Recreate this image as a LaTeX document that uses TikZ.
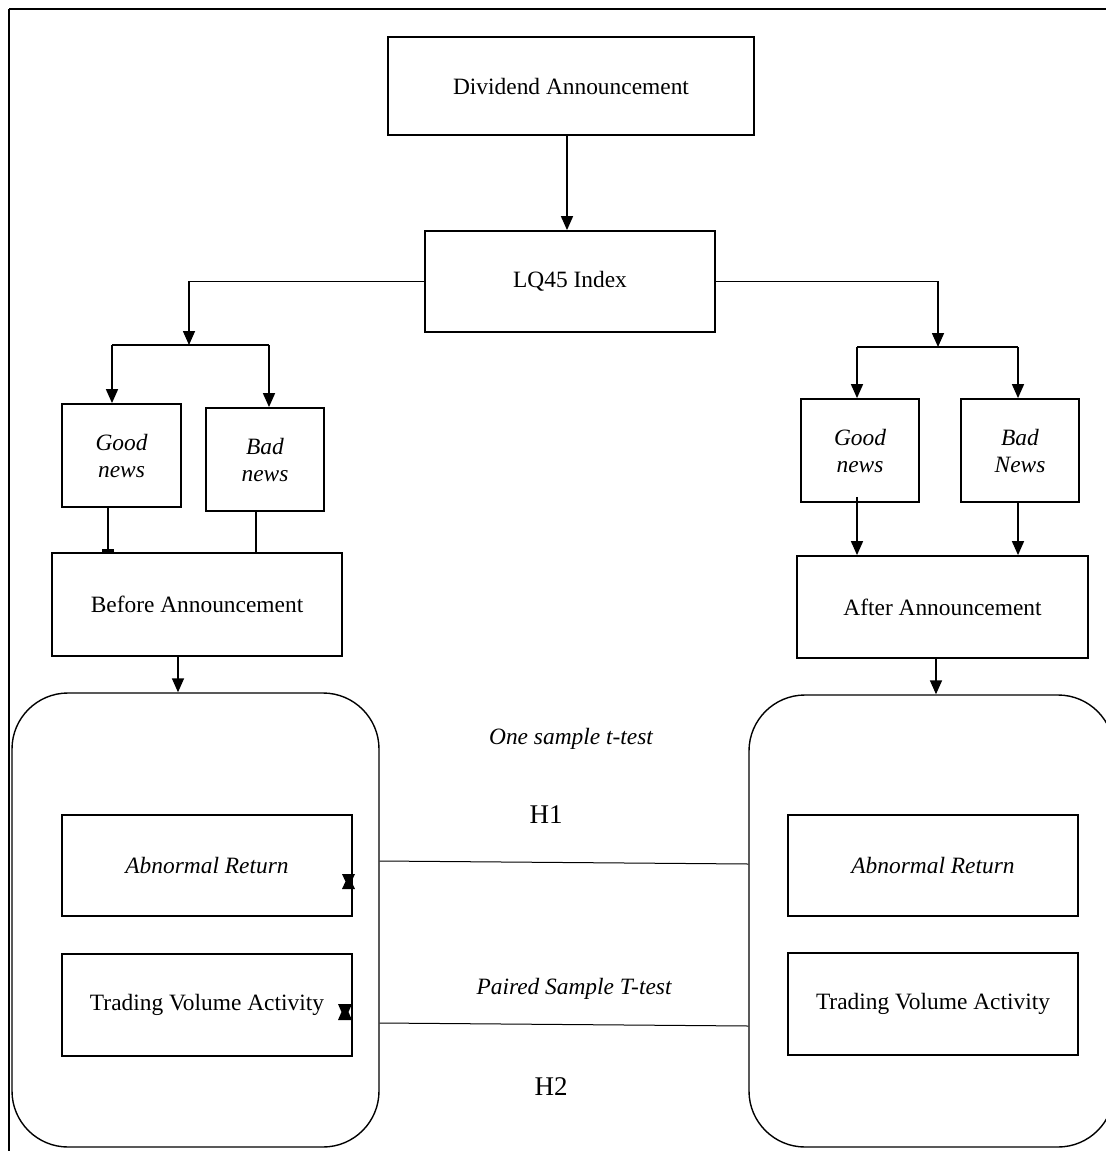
\documentclass[tikz,border=0pt]{standalone}
\usepackage{fontspec}
\setmainfont{Liberation Serif}
\usetikzlibrary{arrows.meta,calc}
\begin{document}
\begin{tikzpicture}[x=0.5pt,y=-0.5pt,
  txt/.style={font=\fontsize{11.7}{13.5}\selectfont, align=center},
  box/.style={txt, draw, line width=0.9pt, inner sep=0pt},
  bigbox/.style={box, minimum width=145pt, minimum height=50.5pt},
  newsbox/.style={box, minimum width=59.5pt, minimum height=51.5pt, font=\fontsize{11.7}{13.5}\selectfont\itshape},
  rbox/.style={draw, line width=0.7pt, rounded corners=28pt, minimum width=183.5pt, minimum height=227pt},
  conn/.style={line width=0.8pt},
  arr/.style={conn, -{Triangle[width=6pt,length=7pt]}},
  bararr/.style={conn, -{Bar[width=6pt,line width=1.5pt]}},
  thin/.style={line width=0.5pt},
  lbl/.style={font=\fontsize{11.7}{13.5}\selectfont\itshape},
  hlbl/.style={font=\fontsize{13.5}{16}\selectfont},
  tie/.style={fill=black}
]
\useasboundingbox (0,0) rectangle (1106,1151);
% frame
\coordinate (fTL) at (9,9);
\coordinate (fTR) at (1106,9);
\coordinate (fBL) at (9,1151);
\draw[line width=1.1pt] (fTR) -- (fTL);
\draw[line width=0.6pt] (fTL) -- (fBL);

% main boxes
\node[box, minimum width=183pt, minimum height=49pt] (div) at (571,86) {Dividend Announcement};
\node[bigbox] (lq) at (570,281.5) {LQ45 Index};

\node[newsbox] (gnL) at (121.5,455.5) {Good\\news};
\node[newsbox, minimum width=59pt] (bnL) at (265,459.5) {Bad\\news};
\node[bigbox, minimum height=51.5pt] (before) at (197,604.5) {Before Announcement};

\node[newsbox, minimum width=59pt] (gnR) at (860,450.5) {Good\\news};
\node[newsbox, minimum width=59pt] (bnR) at (1020,450.5) {Bad\\News};
\node[bigbox, minimum width=145.5pt, minimum height=51pt] (after) at (942.5,607) {After Announcement};

% rounded containers
\node[rbox] (roundL) at (195.5,920) {};
\node[rbox, minimum width=182.5pt, minimum height=226pt] (roundR) at (931.5,921) {};

% inner boxes
\node[bigbox, font=\fontsize{11.7}{13.5}\selectfont\itshape] (arL) at (207,865.5) {Abnormal Return};
\node[bigbox, minimum height=51pt] (tvL) at (207,1005) {Trading Volume Activity};
\node[bigbox, font=\fontsize{11.7}{13.5}\selectfont\itshape] (arR) at (933,865.5) {Abnormal Return};
\node[bigbox, minimum height=51pt] (tvR) at (933,1004) {Trading Volume Activity};

% labels
\node[lbl] (t1) at (571,739) {One sample t-test};
\node[hlbl] (h1) at (546,815) {H1};
\node[lbl] (t2) at (574,989) {Paired Sample T-test};
\node[hlbl] (h2) at (551,1087) {H2};

% connectors top
\draw[arr] ([xshift=-2pt]div.south) -- ([xshift=-2pt]div.south |- lq.north);

% left fork
\coordinate (forkL) at (189,345);
\coordinate (forkLa) at (112,345);
\coordinate (forkLb) at (269,345);
\draw[arr] (lq.west) -| (forkL);
\draw[conn] (forkLa) -- (forkLb);
\draw[arr] (forkLa) -- (forkLa |- gnL.north);
\draw[arr] (forkLb) -- (forkLb |- bnL.north);

% right fork
\coordinate (forkR) at (938,347);
\coordinate (forkRa) at (857,347);
\coordinate (forkRb) at (1018,347);
\draw[arr] (lq.east) -| (forkR);
\draw[conn] (forkRa) -- (forkRb);
\draw[arr] (forkRa) -- (forkRa |- gnR.north);
\draw[arr] (forkRb) -- (forkRb |- bnR.north);

% news to before/after
\coordinate (gLx) at (108,0);
\coordinate (bLx) at (256,0);
\draw[bararr] (gnL.south -| gLx) -- (before.north -| gLx);
\draw[conn] (bnL.south -| bLx) -- (before.north -| bLx);
\draw[arr] ([yshift=3pt]gnR.south -| forkRa) -- (after.north -| forkRa);
\draw[arr] (bnR.south -| forkRb) -- (after.north -| forkRb);

% to containers
\coordinate (bx) at (178,0);
\coordinate (ax) at (936,0);
\draw[arr] (before.south -| bx) -- (roundL.north -| bx);
\draw[arr] (after.south -| ax) -- (roundR.north -| ax);

% hypothesis lines
\draw[thin] ([yshift=2.25pt]roundL.east |- arL.east) -- ([yshift=0.75pt]roundR.west |- arR.east);
\draw[thin] ([yshift=-9pt]roundL.east |- tvL.east) -- ([yshift=-11pt]roundR.west |- tvR.east);

% bowtie markers
\fill[tie] (342,874) -- (355,874) -- (351.5,881.5) -- (355,889) -- (342,889) -- (345.5,881.5) -- cycle;
\fill[tie] (338,1004) -- (352,1004) -- (348.5,1012) -- (352,1020) -- (338,1020) -- (341.5,1012) -- cycle;
\end{tikzpicture}
\end{document}
